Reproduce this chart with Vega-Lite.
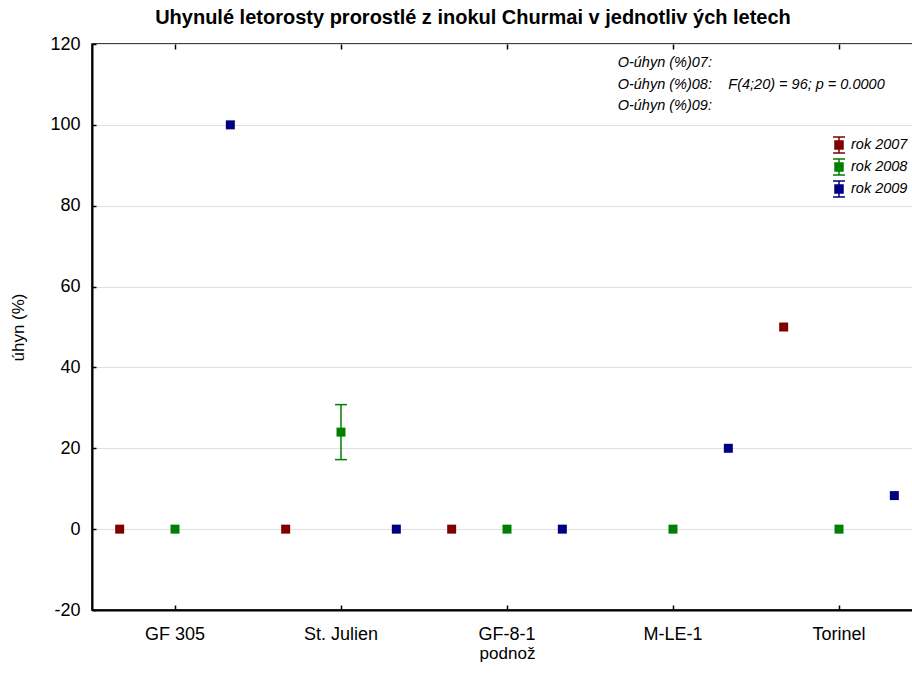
{
  "$schema": "https://vega.github.io/schema/vega-lite/v6.json",
  "width": 830,
  "height": 566,
  "autosize": {"type": "none"},
  "padding": {"left": 92, "top": 44, "right": 0, "bottom": 74},
  "background": "white",
  "title": {
    "text": "Uhynulé letorosty prorostlé z inokul Churmai v  jednotliv ých letech",
    "font": "Liberation Sans",
    "fontSize": 20,
    "fontWeight": "bold",
    "anchor": "middle",
    "dx": -34,
    "offset": 7,
    "color": "#000"
  },
  "data": {
    "values": [
      {"cat": "GF 305", "year": "2007", "value": 0},
      {"cat": "GF 305", "year": "2008", "value": 0},
      {"cat": "GF 305", "year": "2009", "value": 100},
      {"cat": "St. Julien", "year": "2007", "value": 0},
      {"cat": "St. Julien", "year": "2008", "value": 24, "lo": 17.2, "hi": 30.8},
      {"cat": "St. Julien", "year": "2009", "value": 0},
      {"cat": "GF-8-1", "year": "2007", "value": 0},
      {"cat": "GF-8-1", "year": "2008", "value": 0},
      {"cat": "GF-8-1", "year": "2009", "value": 0},
      {"cat": "M-LE-1", "year": "2008", "value": 0},
      {"cat": "M-LE-1", "year": "2009", "value": 20},
      {"cat": "Torinel", "year": "2007", "value": 50},
      {"cat": "Torinel", "year": "2008", "value": 0},
      {"cat": "Torinel", "year": "2009", "value": 8.3}
    ]
  },
  "resolve": {"axis": {"x": "independent"}},
  "layer": [
    {
      "transform": [{"filter": "datum.lo != null"}],
      "mark": {"type": "rule", "strokeWidth": 1.5},
      "encoding": {
        "x": {"field": "cat", "type": "nominal", "sort": null, "axis": null},
        "xOffset": {"field": "year", "type": "nominal"},
        "y": {"field": "lo", "type": "quantitative", "title": "úhyn (%)"},
        "y2": {"field": "hi"},
        "color": {"field": "year", "type": "nominal"}
      }
    },
    {
      "transform": [{"filter": "datum.lo != null"}],
      "mark": {"type": "point", "shape": "stroke", "size": 144, "strokeWidth": 1.5, "opacity": 1},
      "encoding": {
        "x": {"field": "cat", "type": "nominal", "sort": null, "axis": null},
        "xOffset": {"field": "year", "type": "nominal"},
        "y": {"field": "lo", "type": "quantitative", "title": "úhyn (%)"},
        "color": {"field": "year", "type": "nominal"}
      }
    },
    {
      "transform": [{"filter": "datum.lo != null"}],
      "mark": {"type": "point", "shape": "stroke", "size": 144, "strokeWidth": 1.5, "opacity": 1},
      "encoding": {
        "x": {"field": "cat", "type": "nominal", "sort": null, "axis": null},
        "xOffset": {"field": "year", "type": "nominal"},
        "y": {"field": "hi", "type": "quantitative", "title": "úhyn (%)"},
        "color": {"field": "year", "type": "nominal"}
      }
    },
    {
      "mark": {"type": "point", "shape": "square", "filled": true, "size": 81, "opacity": 1},
      "encoding": {
        "x": {
          "field": "cat", "type": "nominal", "sort": null, "title": "podnož",
          "scale": {"domain": ["GF 305", "St. Julien", "GF-8-1", "M-LE-1", "Torinel"], "paddingInner": 0, "paddingOuter": 0},
          "axis": {
            "orient": "bottom", "labelAngle": 0, "labelFontSize": 18, "labelFont": "Liberation Sans", "labelColor": "#000",
            "titlePadding": 2, "titleFontSize": 17, "titleFontWeight": "normal",
            "encode": {"title": {"update": {"fontSize": {"value": 17}, "fontWeight": {"value": "normal"}}}},
            "domainColor": "#000", "domainWidth": 2, "tickColor": "#000", "tickSize": -5, "tickWidth": 1.5, "labelPadding": 20, "grid": false
          }
        },
        "xOffset": {
          "field": "year", "type": "nominal",
          "scale": {"type": "point", "domain": ["2007", "2008", "2009"], "padding": 0.5}
        },
        "y": {
          "field": "value", "type": "quantitative", "title": "úhyn (%)",
          "scale": {"domain": [-20, 120], "nice": false, "zero": false},
          "axis": {
            "values": [-20, 0, 20, 40, 60, 80, 100, 120],
            "labelExpr": "'' + datum.value",
            "labelFontSize": 18, "labelFont": "Liberation Sans", "labelColor": "#000",
            "titlePadding": 22, "titleFontSize": 17, "titleFontWeight": "normal",
            "encode": {"title": {"update": {"fontSize": {"value": 17}, "fontWeight": {"value": "normal"}}}},
            "domainColor": "#000", "domainWidth": 2, "tickColor": "#000", "tickSize": -4, "tickWidth": 1.5, "labelPadding": 16,
            "grid": true, "gridColor": "#e0e0e0", "gridWidth": 1
          }
        },
        "color": {
          "field": "year", "type": "nominal",
          "scale": {"domain": ["2007", "2008", "2009"], "range": ["#800000", "#008000", "#000080"]},
          "legend": {
            "title": null,
            "orient": "none",
            "legendX": 738,
            "legendY": 92,
            "padding": 0,
            "labelExpr": "'rok ' + datum.label",
            "labelFont": "Liberation Sans",
            "labelFontStyle": "italic",
            "labelFontSize": 14.5,
            "labelColor": "#000",
            "labelOffset": 3,
            "rowPadding": 0,
            "symbolType": "M-0.75,-1H0.75M0,-1V1M-0.75,1H0.75M-0.5,-0.5H0.5V0.5H-0.5Z",
            "symbolSize": 256,
            "symbolStrokeWidth": 1.5,
            "symbolOpacity": 1,
            "encode": {"symbols": {"update": {"stroke": {"scale": "color", "field": "value"}}}}
          }
        }
      }
    },
    {
      "data": {
        "values": [
          {"cat": "M-LE-1", "year": "2007", "value": 115.2, "label": "O-úhyn (%)07:"},
          {"cat": "M-LE-1", "year": "2007", "value": 109.9, "label": "O-úhyn (%)08:"},
          {"cat": "M-LE-1", "year": "2009", "value": 109.9, "label": "F(4;20) = 96; p = 0.0000"},
          {"cat": "M-LE-1", "year": "2007", "value": 104.7, "label": "O-úhyn (%)09:"}
        ]
      },
      "mark": {"type": "text", "align": "left", "baseline": "middle", "font": "Liberation Sans", "fontStyle": "italic", "fontSize": 14.5, "color": "#000"},
      "encoding": {
        "x": {
          "field": "cat", "type": "nominal", "sort": null,
          "axis": {"orient": "top", "labels": false, "title": null, "domain": false, "grid": false, "tickColor": "#000", "tickSize": -5, "tickWidth": 1.5}
        },
        "xOffset": {"field": "year", "type": "nominal"},
        "y": {"field": "value", "type": "quantitative", "title": "úhyn (%)"},
        "text": {"field": "label"}
      }
    }
  ],
  "config": {
    "view": {"stroke": "#000", "strokeWidth": 1.5},
    "style": {"guide-title": {"fontSize": 17, "fontWeight": "normal", "font": "Liberation Sans", "fill": "#000"}},
    "axis": {"labelFont": "Liberation Sans", "titleFont": "Liberation Sans", "titleFontSize": 17, "titleFontWeight": "normal", "titleColor": "#000"}
  }
}
